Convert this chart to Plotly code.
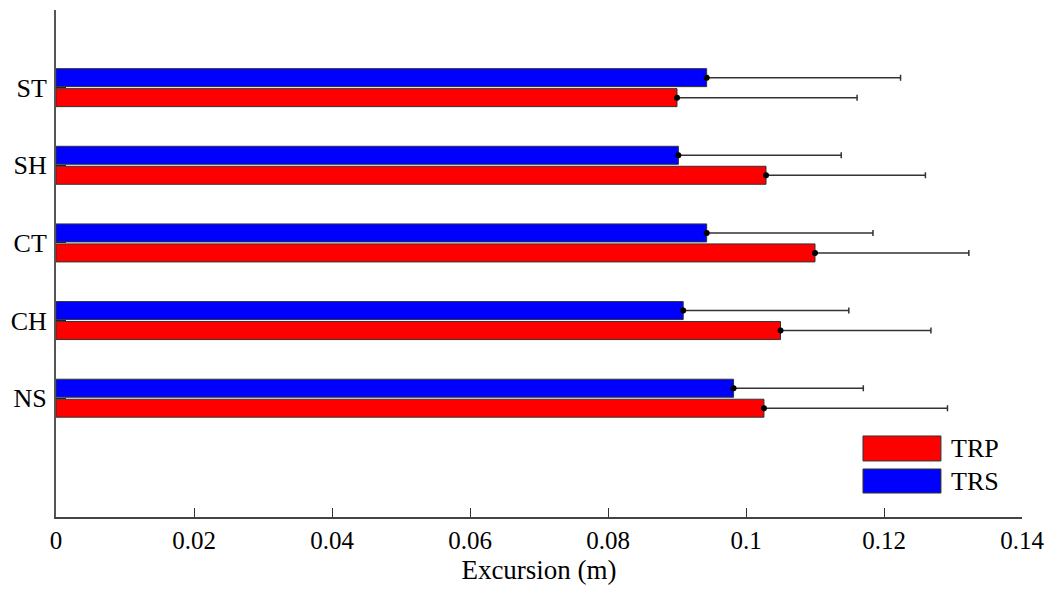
import plotly.graph_objects as go

# ---- data (bottom to top) ----
categories = ["NS", "CH", "CT", "SH", "ST"]
trp_mean = [0.1026, 0.1050, 0.1100, 0.1029, 0.0900]
trp_err = [0.0266, 0.0218, 0.0223, 0.0231, 0.0261]
trs_mean = [0.0982, 0.0909, 0.0943, 0.0902, 0.0943]
trs_err = [0.0188, 0.0240, 0.0241, 0.0236, 0.0281]
series_names = ["TRP", "TRS"]
series_colors = ["#ff0000", "#0000ff"]
x_ticks = [0, 0.02, 0.04, 0.06, 0.08, 0.1, 0.12, 0.14]
x_tick_labels = ["0", "0.02", "0.04", "0.06", "0.08", "0.1", "0.12", "0.14"]

FONT = "Liberation Serif"
BARGAP = 0.485
GROUPGAP = 0.1
pos = list(range(1, len(categories) + 1))
slot = (1 - BARGAP) / 2
offsets = [-slot / 2, slot / 2]

fig = go.Figure()
for name, color, mean, err in [
    (series_names[0], series_colors[0], trp_mean, trp_err),
    (series_names[1], series_colors[1], trs_mean, trs_err),
]:
    fig.add_trace(go.Bar(
        y=pos, x=mean, name=name, orientation="h",
        marker=dict(color=color, line=dict(color="#333333", width=1)),
        error_x=dict(type="data", symmetric=False, array=err,
                     arrayminus=[0] * len(err), color="#333333",
                     thickness=1.5, width=3),
        showlegend=False,
    ))

for k, mean in enumerate([trp_mean, trs_mean]):
    fig.add_trace(go.Scatter(
        y=[p + offsets[k] for p in pos], x=mean, mode="markers",
        marker=dict(color="black", size=6), showlegend=False,
        hoverinfo="skip",
    ))

# manual legend (large boxes as in reference)
leg_x0, leg_x1 = 0.8354, 0.9161
leg_rows = [(0.1598, 0.1105), (0.0947, 0.0473)]
for (y1, y0), name, color in zip(leg_rows, series_names, series_colors):
    fig.add_shape(type="rect", xref="paper", yref="paper",
                  x0=leg_x0, x1=leg_x1, y0=y0, y1=y1,
                  fillcolor=color, line=dict(color="#333333", width=1))
    fig.add_annotation(xref="paper", yref="paper", x=leg_x1 + 0.008,
                       y=(y0 + y1) / 2, text=name, showarrow=False,
                       xanchor="left", yanchor="middle",
                       font=dict(family=FONT, size=26, color="black"))

fig.update_layout(
    width=1052, height=584,
    margin=dict(l=48, r=38, t=2, b=75),
    plot_bgcolor="white", paper_bgcolor="white",
    barmode="group", bargap=BARGAP, bargroupgap=GROUPGAP,
    font=dict(family=FONT, size=25, color="black"),
    xaxis=dict(range=[0, 0.14], tickvals=x_ticks, ticktext=x_tick_labels,
               ticks="inside", ticklen=9, tickcolor="#333333",
               showline=True, linecolor="#444444", linewidth=1.5,
               showgrid=False, zeroline=False, automargin=False,
               title=dict(text="Excursion (m)", standoff=7,
                          font=dict(family=FONT, size=27))),
    yaxis=dict(range=[-0.53, 6], tickvals=pos, ticktext=categories,
               ticks="inside", ticklen=10, tickcolor="#222222",
               showline=True, linecolor="#555555", linewidth=2,
               showgrid=False, zeroline=False, ticklabelstandoff=2,
               tickfont=dict(family=FONT, size=26),
               automargin=False),
)

fig.write_html("out.html")
